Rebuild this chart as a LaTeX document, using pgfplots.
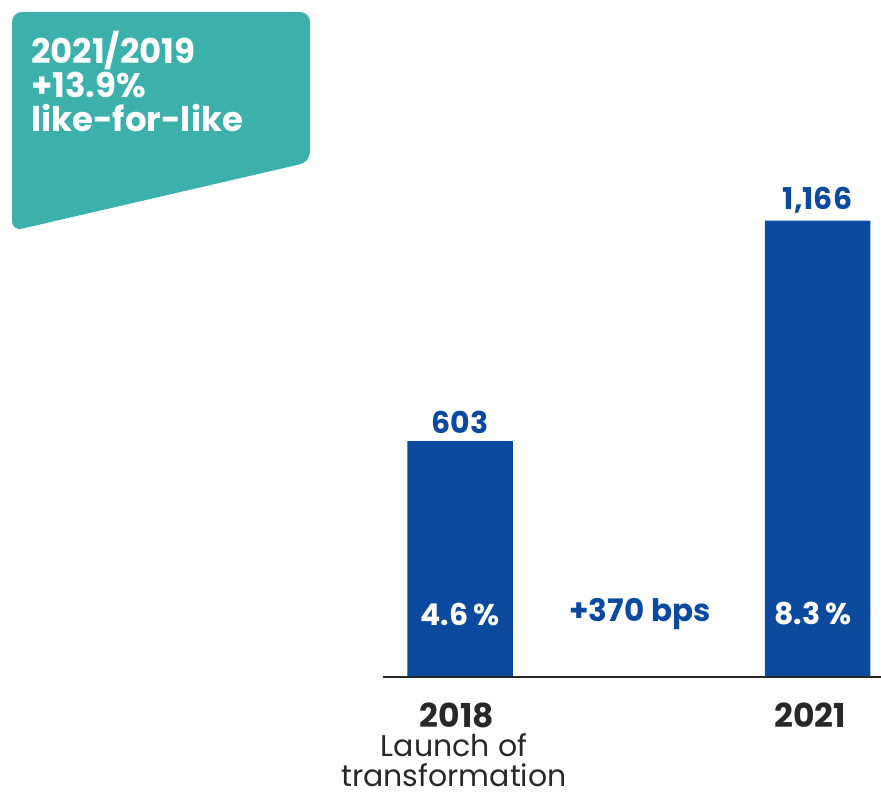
\documentclass[border=0pt]{standalone}
\usepackage{pgfplots}
\pgfplotsset{compat=1.18}
\usepackage{fontspec}
\setmainfont{Poppins}
\definecolor{barblue}{RGB}{12,74,160}
\definecolor{tealbox}{RGB}{60,177,172}
\definecolor{axisgray}{RGB}{40,40,40}
\begin{document}
\begin{tikzpicture}
\begin{axis}[
  at={(0,0)}, anchor=south west,
  scale only axis,
  width=440.5pt, height=397.5pt,
  xmin=0, xmax=881,
  ymin=-301.6, ymax=1730,
  axis lines=none, ticks=none,
  clip=false,
  ybar, bar width=52.75pt,
  nodes near coords,
  nodes near coords style={anchor=south, yshift=0pt, font=\bfseries\fontsize{15}{17}\selectfont, text=barblue,
    /pgf/number format/.cd, 1000 sep={,}, assume math mode=true},
]
\addplot[fill=barblue, draw=none] coordinates {(460,603) (817.5,1166)};
\end{axis}
\begin{scope}[shift={(0,397.5pt)}, x=0.5pt, y=-0.5pt]
  % baseline
  \draw[axisgray, line width=1pt] (383,677) -- (881,677);
  % teal box
  \fill[tealbox, rounded corners=5pt] (12,12) -- (310,12) -- (310,162) -- (12,231) -- cycle;
  \node[anchor=west, text=white, font=\bfseries\fontsize{17}{20}\selectfont] at (24,51) {2021/2019};
  \node[anchor=west, text=white, font=\bfseries\fontsize{17}{20}\selectfont] at (24,85) {+13.9\%};
  \node[anchor=west, text=white, font=\bfseries\fontsize{17}{20}\selectfont] at (24,118) {like-for-like};
  % inside labels
  \node[text=white, font=\bfseries\fontsize{15}{17}\selectfont] at (460,614) {4.6\,\%};
  \node[text=barblue, font=\bfseries\fontsize{15.5}{17}\selectfont] at (640,614) {+370 bps};
  \node[text=white, font=\bfseries\fontsize{15}{17}\selectfont] at (813,614) {8.3\,\%};
  % category labels
  \node[text=axisgray, inner sep=0pt, font=\bfseries\fontsize{16.5}{19}\selectfont] at (457,715) {2018};
  \node[text=axisgray, inner sep=0pt, font=\bfseries\fontsize{16.5}{19}\selectfont] at (810,715) {2021};
  \node[text=axisgray, inner sep=0pt, align=center, font=\fontsize{15}{14.8}\selectfont] at (454,760) {Launch of\\transformation};
\end{scope}
\pgfresetboundingbox
\useasboundingbox (0,0) rectangle (440.5pt,397.5pt);
\end{tikzpicture}
\end{document}
